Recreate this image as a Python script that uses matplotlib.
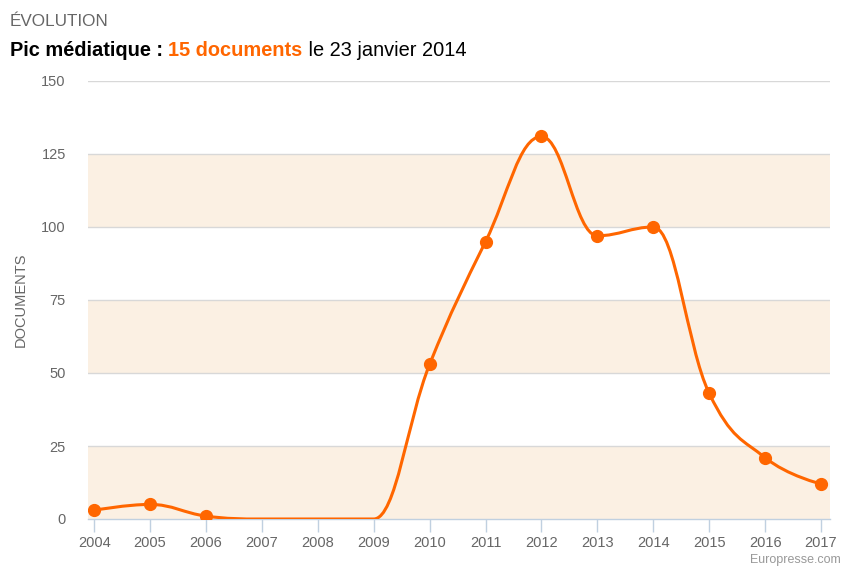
import numpy as np
import matplotlib.pyplot as plt
from matplotlib.path import Path
from matplotlib.patches import PathPatch

plt.rcParams['font.family'] = ['Liberation Sans', 'DejaVu Sans']

# Nombre de documents par an
years = [2004, 2005, 2006, 2007, 2008, 2009, 2010, 2011, 2012, 2013, 2014, 2015, 2016, 2017]
docs = [3, 5, 1, 0, 0, 0, 53, 95, 131, 97, 100, 43, 21, 12]
y_ticks = [0, 25, 50, 75, 100, 125, 150]

orange = '#FF6600'
grey_txt = '#666666'


def spline_path(xs, ys, smoothing=1.5):
    # courbe lissée a la maniere de Highcharts (beziers cubiques)
    n = len(xs)
    denom = smoothing + 1
    left = [None] * n
    right = [None] * n
    for i in range(1, n - 1):
        x, y = xs[i], ys[i]
        lx, ly = xs[i - 1], ys[i - 1]
        nx, ny = xs[i + 1], ys[i + 1]
        lcx = (smoothing * x + lx) / denom
        lcy = (smoothing * y + ly) / denom
        rcx = (smoothing * x + nx) / denom
        rcy = (smoothing * y + ny) / denom
        corr = 0
        if rcx != lcx:
            corr = (rcy - lcy) * (rcx - x) / (rcx - lcx) + y - rcy
        lcy += corr
        rcy += corr
        if lcy > ly and lcy > y:
            lcy = max(ly, y)
            rcy = 2 * y - lcy
        elif lcy < ly and lcy < y:
            lcy = min(ly, y)
            rcy = 2 * y - lcy
        if rcy > ny and rcy > y:
            rcy = max(ny, y)
            lcy = 2 * y - rcy
        elif rcy < ny and rcy < y:
            rcy = min(ny, y)
            lcy = 2 * y - rcy
        left[i] = (lcx, lcy)
        right[i] = (rcx, rcy)
    verts = [(xs[0], ys[0])]
    codes = [Path.MOVETO]
    for i in range(1, n):
        c1 = right[i - 1] if right[i - 1] else (xs[i - 1], ys[i - 1])
        c2 = left[i] if left[i] else (xs[i], ys[i])
        verts += [c1, c2, (xs[i], ys[i])]
        codes += [Path.CURVE4] * 3
    return Path(verts, codes)


fig = plt.figure(figsize=(8.42, 5.66), dpi=100)
ax = fig.add_axes([88 / 842, 1 - 519 / 566, 742 / 842, 438 / 566])

# bandes alternées
for lo in (0, 50, 100):
    ax.axhspan(lo, lo + 25, color='#FBF0E3', zorder=0, lw=0)
for t in y_ticks[1:]:
    ax.axhline(t, color='#D8D8D8', lw=1, zorder=1)

ax.add_patch(PathPatch(spline_path(years, docs), fill=False, edgecolor=orange,
                       lw=2.2, zorder=3, capstyle='round', joinstyle='round'))
# pas de marqueur pour les années sans document
mx = [x for x, v in zip(years, docs) if v > 0]
my = [v for v in docs if v > 0]
ax.plot(mx, my, 'o', color=orange, ms=8.5, zorder=4)

ax.set_xlim(2003.89, 2017.16)
ax.set_ylim(0, 150)
ax.set_yticks(y_ticks)
ax.set_xticks(years)
ax.set_xticklabels([str(y) for y in years])

for s in ('top', 'right', 'left'):
    ax.spines[s].set_visible(False)
ax.spines['bottom'].set_color('#C0D0E0')
ax.spines['bottom'].set_linewidth(1)

ax.tick_params(axis='y', length=0, pad=16, labelsize=10.5, labelcolor=grey_txt)
ax.tick_params(axis='x', length=9, width=1, color='#C0D0E0', pad=3,
               labelsize=10.5, labelcolor=grey_txt)
ax.set_ylabel('DOCUMENTS', fontsize=10.5, color=grey_txt)
ax.yaxis.set_label_coords(-0.081, 0.5)

fig.text(10 / 842, 1 - 21 / 566, 'ÉVOLUTION', fontsize=12.3, color=grey_txt,
         va='center', ha='left')

# titre en plusieurs morceaux
fig.canvas.draw()
r = fig.canvas.get_renderer()
x0 = 10
ty = 1 - 51 / 566
parts = [('Pic médiatique : ', 'bold', 'black'),
         ('15 documents', 'bold', orange),
         (' le 23 janvier 2014', 'normal', 'black')]
for txt, w, c in parts:
    t = fig.text(x0 / 842, ty, txt, fontsize=14.4, fontweight=w, color=c,
                 va='center', ha='left')
    bb = t.get_window_extent(renderer=r)
    x0 += bb.width

fig.text(841 / 842, 1 - 560 / 566, 'Europresse.com', fontsize=9, color='#999999',
         ha='right', va='center')

fig.savefig('out.png', dpi=100)
